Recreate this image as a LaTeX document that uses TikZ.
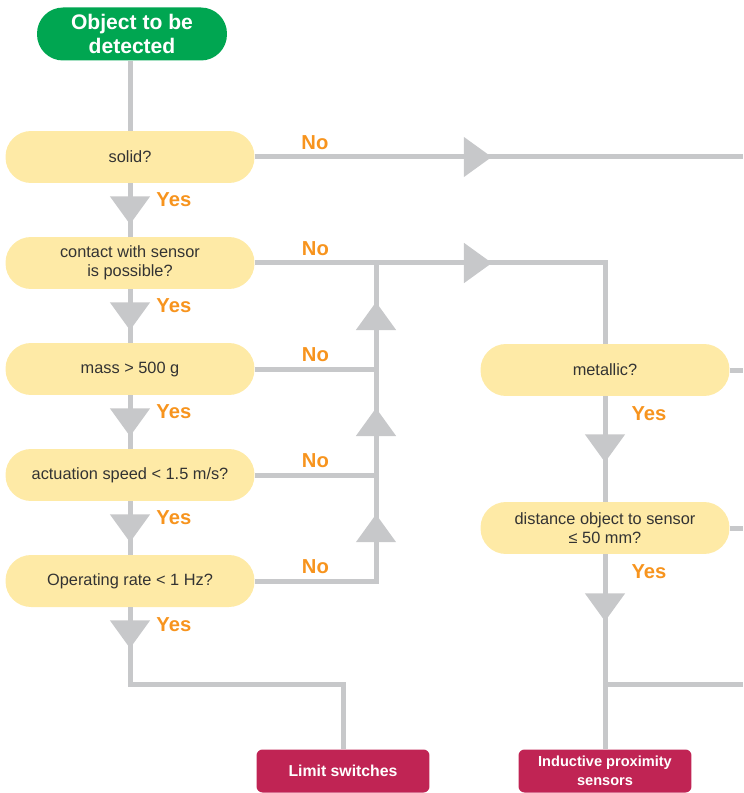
\documentclass[tikz,border=0pt]{standalone}
\usepackage{fontspec}
\setmainfont{Liberation Sans}
\usetikzlibrary{arrows.meta,decorations.markings,positioning}
\definecolor{startgreen}{HTML}{00A651}
\definecolor{qyellow}{HTML}{FEEAA6}
\definecolor{qtext}{HTML}{333333}
\definecolor{lgray}{HTML}{C7C8CA}
\definecolor{yorange}{HTML}{F7941E}
\definecolor{rescrimson}{HTML}{C02454}
\begin{document}
\begin{tikzpicture}[x=0.02cm,y=-0.02cm,
	q/.style={fill=qyellow,rounded corners=0.51cm,minimum width=4.98cm,minimum height=1.04cm,inner sep=0pt,align=center,text=qtext,font=\fontsize{9.3}{10.5}\selectfont},
	start/.style={fill=startgreen,rounded corners=0.52cm,minimum width=3.8cm,minimum height=1.06cm,inner sep=0pt,align=center,text=white,font=\bfseries\fontsize{12}{13.6}\selectfont},
	res/.style={fill=rescrimson,rounded corners=0.12cm,minimum width=3.46cm,minimum height=0.86cm,inner sep=0pt,align=center,text=white,font=\bfseries\fontsize{9}{10.8}\selectfont},
	flow/.style={draw=lgray,color=lgray,line width=0.1cm},
	arr/.style={postaction={decorate},decoration={markings,mark=at position #1 with {\arrow{Triangle[width=0.78cm,length=0.56cm]}}}},
	yes/.style={anchor=west,inner sep=0pt,xshift=0.48cm,text=yorange,font=\bfseries\fontsize{11.5}{12}\selectfont},
	no/.style={inner sep=0pt,yshift=0.28cm,text=yorange,font=\bfseries\fontsize{11.5}{12}\selectfont}]
	\useasboundingbox(0,0)rectangle(743,793);
	% boxes
	\node[start](obj) at (132,34){Object to be\\detected};
	\path(130,157)node[q](solid){solid?}++(0,106)node[q](contact){contact with sensor\\is possible?}++(0,106)node[q](mass){mass > 500 g}++(0,106)node[q](speed){actuation speed < 1.5 m/s?}++(0,106)node[q](rate){Operating rate < 1 Hz?};
	\path(605,370)node[q](metal){metallic?}++(0,158)node[q](dist){distance object to sensor\\≤ 50 mm?};
	\path(343,771)node[res](limit){Limit switches}(605,771)node[res,font=\bfseries\fontsize{8.3}{10.6}\selectfont](induct){Inductive proximity\\sensors};
	\coordinate(bus) at (376,0);
	\coordinate(right) at (743,0);
	\coordinate(branch) at (0,684);
	% left column
	\draw[flow](obj.south-|solid.north)--(solid.north);
	\foreach \a/\b in {solid/contact,contact/mass,mass/speed,speed/rate}
	\draw[flow,arr=0.82cm](\a.south)--node[yes,pos=0.3]{Yes}(\b.north);
	\draw[flow,arr=0.82cm](rate.south)--node[yes,pos=0.22]{Yes}(rate.south|-branch)--(limit.north|-branch)--(limit.north);
	% no branches
	\draw[flow,arr=4.74cm](solid.east)--node[no,pos=0.123]{No}(solid.east-|right);
	\draw[flow](contact.east)--node[no]{No}(contact.east-|bus);
	\draw[flow,arr=2.32cm](contact.east-|bus)--(contact.east-|metal.north)--(metal.north);
	\foreach \a/\b in {speed/mass,mass/contact}{
		\draw[flow](\a.east)--node[no]{No}(\a.east-|bus);
		\draw[flow,arr=1.34cm](\a.east-|bus)--(\b.east-|bus);}
	\draw[flow,arr=3.76cm](rate.east)--node[no]{No}(rate.east-|bus)--(speed.east-|bus);
	% right column
	\draw[flow,arr=1.32cm](metal.south)--node[yes,pos=0.16]{Yes}(dist.north);
	\draw[flow,arr=1.34cm](dist.south)--node[yes,pos=0.087]{Yes}(induct.north);
	\draw[flow](metal.east)--(metal.east-|right);
	\draw[flow](dist.east)--(dist.east-|right);
	\draw[flow](induct.north|-branch)--(branch-|right);
\end{tikzpicture}
\end{document}
